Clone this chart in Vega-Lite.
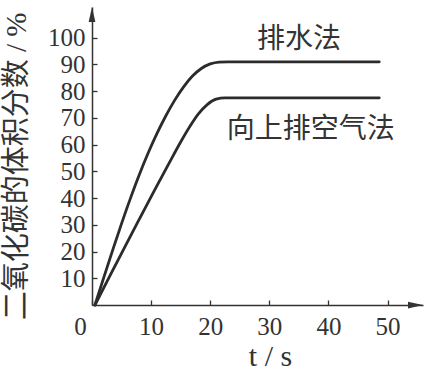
{
  "$schema": "https://vega.github.io/schema/vega-lite/v6.json",
  "width": 331,
  "height": 298,
  "autosize": "none",
  "padding": {"left": 92, "top": 7, "right": 4, "bottom": 72},
  "background": "white",
  "config": {"view": {"stroke": null}, "axis": {"labelOverlap": false}},
  "datasets": {
    "curves": [
      {"method": "排水法", "t": 0.5, "v": 0},
      {"method": "排水法", "t": 2, "v": 10.35},
      {"method": "排水法", "t": 3.5, "v": 20.55},
      {"method": "排水法", "t": 5, "v": 30.45},
      {"method": "排水法", "t": 6.5, "v": 39.9},
      {"method": "排水法", "t": 8, "v": 48.75},
      {"method": "排水法", "t": 9.5, "v": 56.85},
      {"method": "排水法", "t": 11, "v": 64.2},
      {"method": "排水法", "t": 12.5, "v": 70.8},
      {"method": "排水法", "t": 14, "v": 76.65},
      {"method": "排水法", "t": 15.5, "v": 81.6},
      {"method": "排水法", "t": 17, "v": 85.65},
      {"method": "排水法", "t": 18.5, "v": 88.5},
      {"method": "排水法", "t": 20, "v": 90.2},
      {"method": "排水法", "t": 21.5, "v": 90.9},
      {"method": "排水法", "t": 23, "v": 91},
      {"method": "排水法", "t": 48.6, "v": 91},
      {"method": "向上排空气法", "t": 0.5, "v": 0},
      {"method": "向上排空气法", "t": 3, "v": 10.8},
      {"method": "向上排空气法", "t": 5.5, "v": 21.5},
      {"method": "向上排空气法", "t": 8, "v": 32.1},
      {"method": "向上排空气法", "t": 10.5, "v": 42.6},
      {"method": "向上排空气法", "t": 13, "v": 52.9},
      {"method": "向上排空气法", "t": 15, "v": 61},
      {"method": "向上排空气法", "t": 16.5, "v": 66.6},
      {"method": "向上排空气法", "t": 18, "v": 71.5},
      {"method": "向上排空气法", "t": 19.5, "v": 75},
      {"method": "向上排空气法", "t": 21, "v": 77},
      {"method": "向上排空气法", "t": 22.5, "v": 77.5},
      {"method": "向上排空气法", "t": 48.6, "v": 77.5}
    ],
    "labels": [
      {"label": "排水法", "t": 35, "v": 99.2},
      {"label": "向上排空气法", "t": 37, "v": 65.5}
    ],
    "arrows": [
      {"axis": "y", "t": 0, "v": 111.5},
      {"axis": "x", "t": 56, "v": 0}
    ]
  },
  "encoding": {
    "x": {
      "field": "t", "type": "quantitative",
      "scale": {"domain": [0, 56], "nice": false},
      "axis": {
        "title": "t / s",
        "values": [0, 10, 20, 30, 40, 50],
        "grid": false,
        "domainColor": "#333", "domainWidth": 1.5,
        "tickColor": "#333", "tickWidth": 1.3, "tickSize": -5,
        "labelFont": "Liberation Serif", "labelFontSize": 25, "labelColor": "#333",
        "labelPadding": 14, "labelFlush": false, "labelOverlap": false,
        "labelOffset": {"condition": {"test": "datum.value == 0", "value": -12}, "value": 0},
        "titleFont": "Liberation Serif", "titleFontSize": 30, "titleFontWeight": "normal", "titleColor": "#333",
        "titleX": 178, "titleY": 51, "titleAlign": "center", "titleBaseline": "middle"
      }
    },
    "y": {
      "field": "v", "type": "quantitative",
      "scale": {"domain": [0, 111.5], "nice": false},
      "axis": {
        "title": "二氧化碳的体积分数 / %",
        "values": [10, 20, 30, 40, 50, 60, 70, 80, 90, 100],
        "grid": false,
        "domainColor": "#333", "domainWidth": 1.5,
        "tickColor": "#333", "tickWidth": 1.3, "tickSize": -5,
        "labelFont": "Liberation Serif", "labelFontSize": 25, "labelColor": "#333",
        "labelPadding": 12, "labelOverlap": false, "labelFlush": false,
        "titleFont": "Liberation Serif, Noto Sans CJK SC", "titleFontSize": 29, "titleFontWeight": "normal", "titleColor": "#333",
        "titleX": -76, "titleY": 159, "titleAngle": -90, "titleAlign": "center", "titleBaseline": "middle"
      }
    }
  },
  "layer": [
    {
      "data": {"name": "curves"},
      "mark": {"type": "line", "interpolate": "monotone", "color": "#2b2b2b", "strokeWidth": 2.8, "strokeCap": "round", "strokeJoin": "round"},
      "encoding": {
        "detail": {"field": "method"}
      }
    },
    {
      "data": {"name": "labels"},
      "mark": {"type": "text", "font": "Noto Sans CJK SC", "fontSize": 28, "color": "#333", "align": "center", "baseline": "middle"},
      "encoding": {
        "text": {"field": "label"}
      }
    },
    {
      "data": {"name": "arrows"},
      "transform": [{"filter": "datum.axis == 'y'"}],
      "mark": {"type": "point", "shape": "M0,0L0.45,2L-0.45,2Z", "filled": true, "size": 225, "color": "#333", "opacity": 1},
      "encoding": {}
    },
    {
      "data": {"name": "arrows"},
      "transform": [{"filter": "datum.axis == 'x'"}],
      "mark": {"type": "point", "shape": "M0,0L-2,-0.45L-2,0.45Z", "filled": true, "size": 225, "color": "#333", "opacity": 1},
      "encoding": {}
    }
  ]
}
